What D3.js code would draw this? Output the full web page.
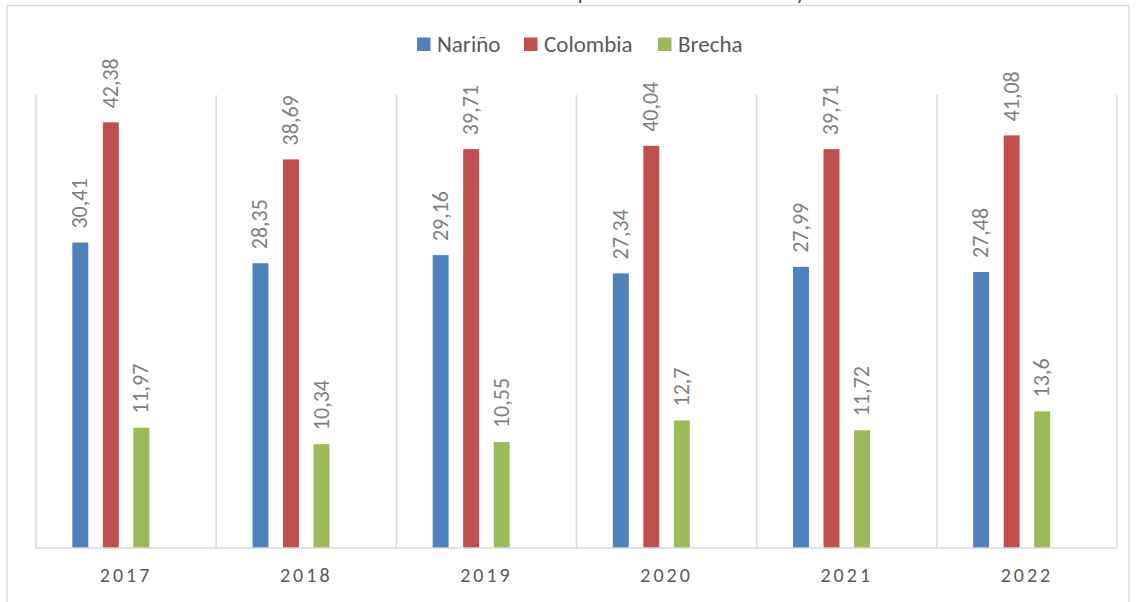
<!DOCTYPE html>
<html>
<head>
<meta charset="utf-8">
<script src="https://cdn.jsdelivr.net/npm/d3@7/dist/d3.min.js"></script>
<style>
  html, body { margin: 0; padding: 0; background: #fff; }
  svg { display: block; font-family: Carlito, Lato, "Open Sans", sans-serif; }
</style>
</head>
<body>
<svg id="chart" width="1138" height="602"></svg>
<script>
// Poverty incidence (%) by year, Nariño vs Colombia and the gap between them
const years = ["2017", "2018", "2019", "2020", "2021", "2022"];
const series = ["Nariño", "Colombia", "Brecha"];
const narino = [30.41, 28.35, 29.16, 27.34, 27.99, 27.48];
const colombia = [42.38, 38.69, 39.71, 40.04, 39.71, 41.08];
const brecha = [11.97, 10.34, 10.55, 12.7, 11.72, 13.6];
const seriesValues = [narino, colombia, brecha];
const colors = ["#4f81bd", "#c0504d", "#9bbb59"];
const yMax = 45;
const titleText = "Incidencia de pobreza monetaria Nariño y Colombia";

const svg = d3.select("#chart");

// outer chart frame
svg.append("rect")
  .attr("x", 7).attr("y", 5.5)
  .attr("width", 1122).attr("height", 620)
  .attr("fill", "none").attr("stroke", "#d9d9d9").attr("stroke-width", 1.5);

// title (sits above the frame, mostly outside the view)
const title = svg.append("text")
  .attr("y", 0)
  .attr("fill", "#404040")
  .attr("font-size", 20)
  .text(titleText);
{
  const node = title.node();
  const pIdx = titleText.indexOf("p");
  const pOff = node.getSubStringLength(0, pIdx);
  title.attr("x", 578 - pOff);
}

const plot = { left: 36, right: 1117, top: 96, bottom: 548 };

const x0 = d3.scaleBand().domain(years).range([plot.left, plot.right]).padding(0);
// four slots per year; the last one stays empty
const x1 = d3.scaleBand().domain([...series, ""]).range([0, x0.bandwidth()])
  .paddingInner(0.477).paddingOuter(1.19);
const y = d3.scaleLinear().domain([0, yMax]).range([plot.bottom, plot.top]);

// vertical gridlines at category boundaries
const bounds = years.map(d => x0(d)).concat([plot.right]);
svg.append("g").selectAll("line").data(bounds).join("line")
  .attr("x1", d => d).attr("x2", d => d)
  .attr("y1", plot.top - 1).attr("y2", plot.bottom)
  .attr("stroke", "#d9d9d9").attr("stroke-width", 1.5);

// bars
const groups = svg.append("g").selectAll("g").data(years).join("g")
  .attr("transform", d => `translate(${x0(d)},0)`);

series.forEach((s, si) => {
  groups.append("rect")
    .attr("x", x1(s))
    .attr("width", x1.bandwidth())
    .attr("y", (d, i) => y(seriesValues[si][i]))
    .attr("height", (d, i) => plot.bottom - y(seriesValues[si][i]))
    .attr("fill", colors[si]);

  groups.append("text")
    .attr("transform", (d, i) =>
      `translate(${x1(s) + x1.bandwidth() / 2 + 7},${y(seriesValues[si][i]) - 14}) rotate(-90)`)
    .attr("fill", "#7f7f7f")
    .attr("font-size", 22)
    .text((d, i) => String(seriesValues[si][i]).replace(".", ","));
});

// x axis baseline and labels
const xAxis = svg.append("g").attr("transform", `translate(0,${plot.bottom})`)
  .call(d3.axisBottom(x0).tickSize(0).tickPadding(0));
xAxis.select(".domain").attr("stroke", "#d9d9d9").attr("stroke-width", 1.5)
  .attr("d", `M${plot.left},0H${plot.right}`);
xAxis.selectAll("text")
  .attr("y", 34).attr("dy", 0)
  .attr("fill", "#595959")
  .attr("font-size", 20)
  .attr("letter-spacing", 3)
  .attr("font-family", "Carlito, Lato, sans-serif");

// legend
const legendX = [417, 524, 658];
const legend = svg.append("g");
series.forEach((s, i) => {
  legend.append("rect")
    .attr("x", legendX[i]).attr("y", 37.5)
    .attr("width", 13.5).attr("height", 13.5)
    .attr("fill", colors[i]);
  legend.append("text")
    .attr("x", legendX[i] + 20).attr("y", 51.5)
    .attr("fill", "#595959")
    .attr("font-size", 23)
    .text(s);
});
</script>
</body>
</html>
